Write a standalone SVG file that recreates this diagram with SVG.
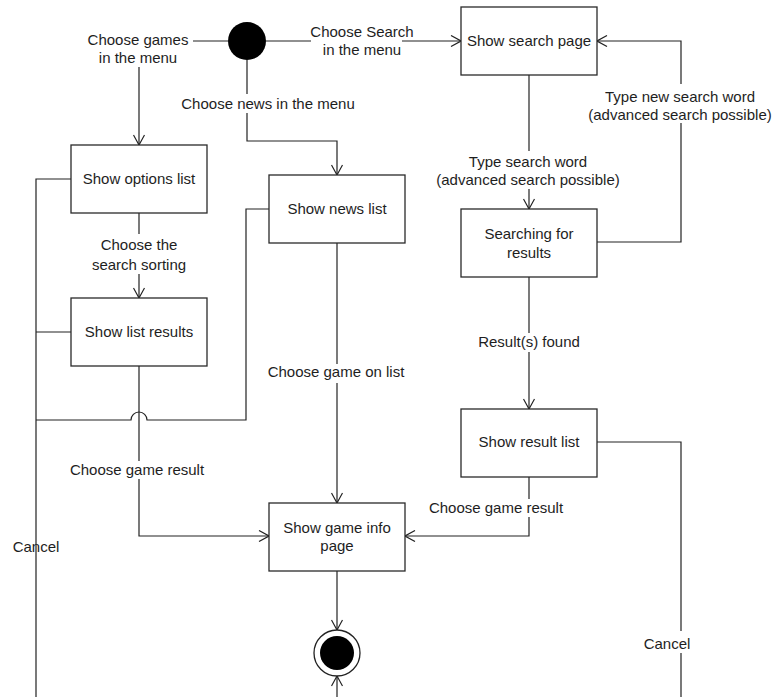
<svg xmlns="http://www.w3.org/2000/svg" width="781" height="697" viewBox="0 0 781 697">
  <style>
    .box { fill: #ffffff; stroke: #2a2a2a; stroke-width: 1.3; }
    .edge { fill: none; stroke: #222222; stroke-width: 1.2; }
    .lbl { font-family: "Liberation Sans", Arial, sans-serif; font-size: 15px; fill: #1e1e1e; text-anchor: middle; }
    .bg { fill: #ffffff; }
  </style>
  <defs>
    <marker id="vee" viewBox="0 0 12 12" markerWidth="12" markerHeight="12" refX="11" refY="6" orient="auto" markerUnits="userSpaceOnUse">
      <path d="M1,0.5 L11,6 L1,11.5" fill="none" stroke="#222222" stroke-width="1.2"/>
    </marker>
  </defs>
  <rect width="781" height="697" fill="#ffffff"/>

  <g id="connectors">
    <!-- cancel label on the left sits under its line -->
    <text class="lbl" x="36" y="552">Cancel</text>

    <!-- start -> Show options list -->
    <path class="edge" d="M228,41 H139 V145" marker-end="url(#vee)"/>
    <!-- start -> Show news list -->
    <path class="edge" d="M247,60 V141 H337 V175" marker-end="url(#vee)"/>
    <!-- start -> Show search page -->
    <path class="edge" d="M266,41 H461" marker-end="url(#vee)"/>
    <!-- Show search page -> Searching for results -->
    <path class="edge" d="M529,75 V209" marker-end="url(#vee)"/>
    <!-- Searching for results -> Show search page -->
    <path class="edge" d="M597,242 H681 V41 H597" marker-end="url(#vee)"/>
    <!-- Searching for results -> Show result list -->
    <path class="edge" d="M529,277 V409" marker-end="url(#vee)"/>
    <!-- Show result list -> Show game info page -->
    <path class="edge" d="M529,477 V536 H405" marker-end="url(#vee)"/>
    <!-- Show result list -> cancel -->
    <path class="edge" d="M597,442 H681 V697"/>
    <!-- Show news list -> Show game info page -->
    <path class="edge" d="M337,243 V503" marker-end="url(#vee)"/>
    <!-- Show options list -> Show list results -->
    <path class="edge" d="M139,213 V298" marker-end="url(#vee)"/>
    <!-- Show list results -> Show game info page -->
    <path class="edge" d="M139,366 V536 H269" marker-end="url(#vee)"/>
    <!-- cancel branches on the left -->
    <path class="edge" d="M71,179 H36 V697"/>
    <path class="edge" d="M71,332 H36"/>
    <path class="edge" d="M269,209 H246 V420 H147 A8,8 0 0 0 131,420 H36"/>
    <!-- cancel flow returning to the final node -->
    <path class="edge" d="M337,697 V676" marker-end="url(#vee)"/>
    <!-- Show game info page -> final node -->
    <path class="edge" d="M337,571 V630" marker-end="url(#vee)"/>

    <!-- labels -->
    <rect class="bg" x="85" y="30" width="108" height="37"/>
    <text class="lbl" x="138" y="45">Choose games</text>
    <text class="lbl" x="138" y="63">in the menu</text>

    <rect class="bg" x="179" y="94" width="178" height="19"/>
    <text class="lbl" x="268" y="109">Choose news in the menu</text>

    <rect class="bg" x="311" y="24" width="91" height="34"/>
    <text class="lbl" x="362" y="37">Choose Search</text>
    <text class="lbl" x="362" y="55">in the menu</text>

    <rect class="bg" x="437" y="151" width="183" height="38"/>
    <text class="lbl" x="528" y="167">Type search word</text>
    <text class="lbl" x="528" y="185">(advanced search possible)</text>

    <rect class="bg" x="587" y="84" width="186" height="39"/>
    <text class="lbl" x="680" y="102">Type new search word</text>
    <text class="lbl" x="680" y="120">(advanced search possible)</text>

    <rect class="bg" x="476" y="333" width="106" height="19"/>
    <text class="lbl" x="529" y="347">Result(s) found</text>

    <rect class="bg" x="426" y="499" width="140" height="18"/>
    <text class="lbl" x="496" y="513">Choose game result</text>

    <rect class="bg" x="643" y="631" width="48" height="22"/>
    <text class="lbl" x="667" y="649">Cancel</text>

    <rect class="bg" x="265" y="364" width="143" height="19"/>
    <text class="lbl" x="336" y="377">Choose game on list</text>

    <rect class="bg" x="90" y="234" width="98" height="40"/>
    <text class="lbl" x="139" y="250">Choose the</text>
    <text class="lbl" x="139" y="270">search sorting</text>

    <rect class="bg" x="68" y="461" width="139" height="18"/>
    <text class="lbl" x="137" y="475">Choose game result</text>
  </g>

  <g id="start">
    <circle cx="247" cy="41" r="19" fill="#000000"/>
  </g>

  <g id="show-options-list">
    <rect class="box" x="71" y="145" width="136" height="68"/>
    <text class="lbl" x="139" y="184">Show options list</text>
  </g>

  <g id="show-news-list">
    <rect class="box" x="269" y="175" width="136" height="68"/>
    <text class="lbl" x="337" y="214">Show news list</text>
  </g>

  <g id="show-search-page">
    <rect class="box" x="461" y="7" width="136" height="68"/>
    <text class="lbl" x="529" y="46">Show search page</text>
  </g>

  <g id="searching-for-results">
    <rect class="box" x="461" y="209" width="136" height="68"/>
    <text class="lbl" x="529" y="239">Searching for</text>
    <text class="lbl" x="529" y="258">results</text>
  </g>

  <g id="show-list-results">
    <rect class="box" x="71" y="298" width="136" height="68"/>
    <text class="lbl" x="139" y="337">Show list results</text>
  </g>

  <g id="show-result-list">
    <rect class="box" x="461" y="409" width="136" height="68"/>
    <text class="lbl" x="529" y="447">Show result list</text>
  </g>

  <g id="show-game-info-page">
    <rect class="box" x="269" y="503" width="136" height="68"/>
    <text class="lbl" x="337" y="533">Show game info</text>
    <text class="lbl" x="337" y="551">page</text>
  </g>

  <g id="end">
    <circle cx="337" cy="653" r="23" fill="#ffffff" stroke="#222222" stroke-width="1.3"/>
    <circle cx="337" cy="653" r="17" fill="#000000"/>
  </g>
</svg>
